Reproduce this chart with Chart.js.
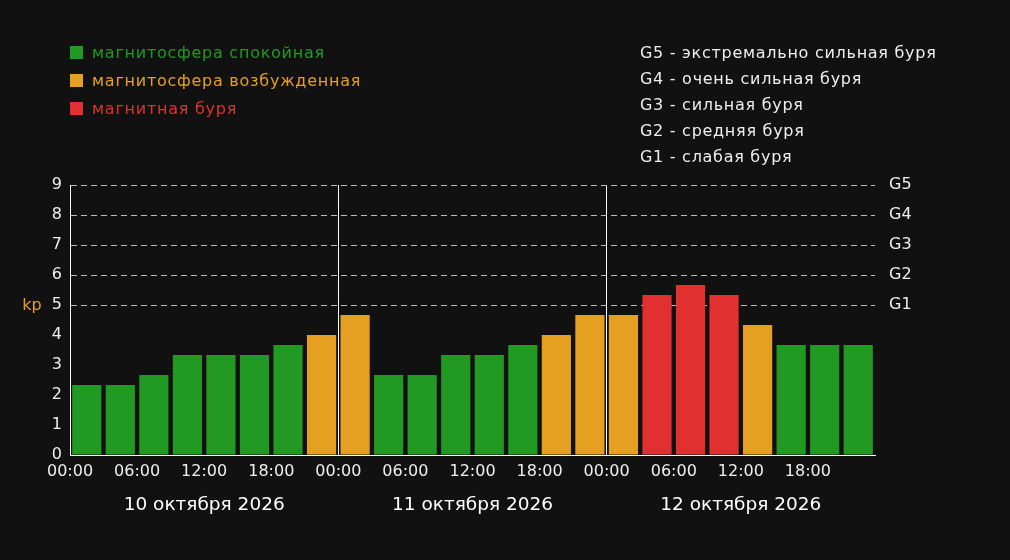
<!DOCTYPE html>
<html><head><meta charset="utf-8">
<script src="https://cdn.jsdelivr.net/npm/chart.js@4/dist/chart.umd.min.js"></script>
<style>
html,body{margin:0;padding:0;background:#111111;}
#wrap{position:relative;width:1010px;height:560px;}
canvas{position:absolute;left:0;top:0;}
.leg{position:absolute;font-family:"DejaVu Sans";font-size:16px;white-space:nowrap;line-height:18px;letter-spacing:0.75px;}
.leg span.sq{display:inline-block;width:13px;height:13px;margin-right:9px;vertical-align:-1px;}
.glist{position:absolute;left:640px;top:40px;font-family:"DejaVu Sans";font-size:16px;color:#eeeeee;line-height:26px;white-space:nowrap;letter-spacing:0.72px;}
</style></head>
<body><div id="wrap"><canvas id="c" width="1010" height="560"></canvas>
<div id="legL"></div>
<div class="glist" id="legR"></div>
</div>
<script>
const kpValues = [2.33, 2.33, 2.67, 3.33, 3.33, 3.33, 3.67, 4.00,
                  4.67, 2.67, 2.67, 3.33, 3.33, 3.67, 4.00, 4.67,
                  4.67, 5.33, 5.67, 5.33, 4.33, 3.67, 3.67, 3.67];
const hourLabels = ["00:00", "06:00", "12:00", "18:00"];
const dayLabels = ["10 октября 2026", "11 октября 2026", "12 октября 2026"];
const stormLevels = ["G1", "G2", "G3", "G4", "G5"];
const stormDescriptions = ["G5 - экстремально сильная буря", "G4 - очень сильная буря", "G3 - сильная буря", "G2 - средняя буря", "G1 - слабая буря"];
const legendNames = ["магнитосфера спокойная", "магнитосфера возбужденная", "магнитная буря"];
const legendColors = ["#229922", "#e5a022", "#e03030"];

// legends
const legL = document.getElementById('legL');
legendNames.forEach((n, i) => {
  const d = document.createElement('div');
  d.className = 'leg';
  d.style.left = '70px';
  d.style.top = (44 + i * 28) + 'px';
  d.style.color = legendColors[i];
  d.innerHTML = '<span class="sq" style="background:' + legendColors[i] + '"></span>' + n;
  legL.appendChild(d);
});
document.getElementById('legR').innerHTML = stormDescriptions.map(s => '<div>' + s + '</div>').join('');

const colorFor = v => v >= 5 ? legendColors[2] : (v >= 4 ? legendColors[1] : legendColors[0]);
const points = kpValues.map((v, i) => ({x: i + 0.5, y: v}));

const kpLabel = {
  id: 'kpLabel',
  afterDraw(chart) {
    const c = chart.ctx, y = chart.scales.y;
    c.save();
    c.font = '16px "DejaVu Sans"';
    c.fillStyle = '#e5a022';
    c.textAlign = 'center';
    c.textBaseline = 'middle';
    c.fillText('kp', 32, y.getPixelForValue(5) + 1);
    c.restore();
  }
};

new Chart(document.getElementById('c'), {
  type: 'bar',
  data: {
    datasets: [{
      data: points,
      backgroundColor: kpValues.map(colorFor),
      borderWidth: 0,
      barPercentage: 0.87,
      categoryPercentage: 1.0
    }]
  },
  options: {
    responsive: false,
    animation: false,
    events: [],
    layout: {padding: {top: 185, left: 0, right: 0, bottom: 0}},
    plugins: {legend: {display: false}, tooltip: {enabled: false}},
    scales: {
      x: {
        type: 'linear', position: 'bottom', min: 0, max: 24, offset: false,
        afterBuildTicks: s => { s.ticks = []; for (let v = 0; v < 24; v += 2) s.ticks.push({value: v}); },
        ticks: {
          autoSkip: false, maxRotation: 0, padding: 7,
          color: '#eeeeee', font: {family: '"DejaVu Sans"', size: 16},
          callback: v => hourLabels[(v / 2) % 4]
        },
        grid: {
          drawTicks: false, offset: false,
          color: ctx => (ctx.tick && ctx.tick.value % 8 === 0 && ctx.tick.value > 0) ? '#ffffff' : 'rgba(0,0,0,0)',
          lineWidth: 1
        },
        border: {color: '#ffffff', width: 1},
        afterFit: s => { s.height = 30; }
      },
      x2: {
        type: 'linear', position: 'bottom', min: 0, max: 24, offset: false,
        afterBuildTicks: s => { s.ticks = dayLabels.map((d, i) => ({value: i * 8 + 4})); },
        ticks: {
          autoSkip: false, maxRotation: 0, padding: 9,
          color: '#ffffff', font: {family: '"DejaVu Sans"', size: 18.5},
          callback: v => dayLabels[(v - 4) / 8]
        },
        grid: {display: false, drawTicks: false},
        border: {display: false},
        afterFit: s => { s.height = 75; }
      },
      y: {
        min: 0, max: 9,
        ticks: {stepSize: 1, padding: 8, color: '#eeeeee', font: {family: '"DejaVu Sans"', size: 16}},
        grid: {
          drawTicks: false,
          color: ctx => (ctx.tick && ctx.tick.value >= 5) ? '#bbbbbb' : 'rgba(0,0,0,0)',
          lineWidth: 1
        },
        border: {color: '#ffffff', width: 1, dash: [6, 4]},
        afterFit: s => { s.width = 70; }
      },
      y2: {
        position: 'right', min: 0, max: 9,
        ticks: {
          stepSize: 1, padding: 14, color: '#eeeeee', font: {family: '"DejaVu Sans"', size: 16},
          callback: v => v >= 5 ? stormLevels[v - 5] : ''
        },
        grid: {display: false, drawTicks: false},
        border: {display: false},
        afterFit: s => { s.width = 135; }
      }
    }
  },
  plugins: [kpLabel]
});
</script>
</body></html>
